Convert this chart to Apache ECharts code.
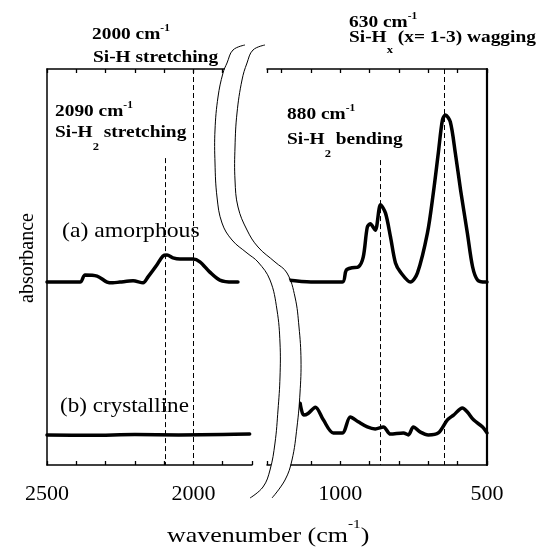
<!DOCTYPE html>
<html>
<head>
<meta charset="utf-8">
<script src="https://cdn.jsdelivr.net/npm/echarts@6/dist/echarts.min.js"></script>
<style>
  html, body { margin: 0; padding: 0; background: #fff; }
  .layer { position: absolute; left: 0; top: 0; width: 539px; height: 549px; }
  #log { position: absolute; left: 2px; top: 2px; font: 9px monospace; color: #c00; white-space: pre-wrap; z-index: 10; }
</style>
</head>
<body>
<div id="axes" class="layer"></div>
<div id="plot" class="layer"></div>
<div id="log"></div>
<script>
window.onerror = (m) => { document.getElementById('log').textContent += 'ERR ' + m + '\n'; };

// ---- data (wavenumber in cm-1, absorbance in arbitrary units 0..100) ----
const leftAmorphousWn  = [2500, 2387, 2370, 2329, 2295, 2275, 2251, 2206, 2172, 2155, 2125, 2104, 2090, 2070, 2046, 2002, 1978, 1944, 1910, 1865, 1848];
const leftAmorphousAbs = [46.2, 46.2, 48.0, 47.7, 46.2, 46.0, 46.2, 46.5, 46.0, 47.5, 50.5, 52.8, 53.0, 52.3, 52.0, 52.0, 51.3, 48.7, 46.7, 46.2, 46.2];

const leftCrystWn  = [2500, 2350, 2200, 2050, 1900, 1808];
const leftCrystAbs = [7.6, 7.5, 7.7, 7.6, 7.7, 7.8];

const rightAmorphousWn  = [1181, 1100, 993, 980, 960, 939, 922, 908, 898, 881, 863, 846, 829, 812, 795, 761, 737, 703, 683, 666, 652, 642, 625, 608, 590, 567, 549, 532, 505, 500];
const rightAmorphousAbs = [46.7, 46.2, 46.2, 49.2, 49.8, 50.0, 52.5, 60.1, 60.9, 59.3, 65.7, 63.6, 57.6, 51.0, 48.7, 46.2, 48.5, 58.6, 68.7, 78.8, 87.1, 88.4, 86.6, 78.8, 69.4, 58.6, 50.0, 46.7, 46.2, 46.2];

const rightCrystWn  = [1137, 1125, 1110, 1085, 1058, 1024, 993, 966, 939, 908, 881, 853, 829, 785, 768, 751, 727, 700, 666, 635, 614, 584, 567, 546, 515, 500];
const rightCrystAbs = [15.6, 12.6, 13.0, 14.6, 11.4, 8.1, 8.1, 12.1, 10.9, 9.6, 9.1, 9.6, 7.8, 8.1, 7.6, 9.6, 8.3, 7.6, 8.1, 11.4, 12.6, 14.4, 13.4, 11.4, 9.6, 8.1];

// dashed reference lines: [wavenumber, top of line]
const leftRefLines  = [[2095, 77.5], [2000, 100]];
const rightRefLines = [[865, 77], [645, 100]];

const leftLabels  = [2500, 2000];
const rightLabels = [1000, 500];

// axis break curves (pixel outline of the "((" marks)
const breakCurve1 = [[245,45],[233,50],[227,63],[223,73],[218,97],[215,130],[215,163],[217,197],[222,223],[232,240],[247,253],[258,262],[270,280],[277,310],[280,343],[280,377],[278,410],[275,443],[270,470],[263,487],[250,498]];
const breakCurve2 = [[265,45],[253,50],[247,63],[242,80],[237,113],[235,147],[235,180],[238,207],[247,230],[258,247],[275,262],[287,273],[295,297],[299,327],[301,360],[300,393],[297,427],[292,460],[285,480],[272,498]];

const FONT = '"Liberation Serif", "Times New Roman", serif';
const zip = (a, b) => a.map((v, i) => [v, b[i]]);

const measureCtx = document.createElement('canvas').getContext('2d');
function textWidth(str, size, bold) {
  measureCtx.font = (bold ? 'bold ' : '') + size + 'px ' + FONT;
  return measureCtx.measureText(str).width;
}

// lay out a line of text pieces (main text, super/subscripts) left to right
function textRun(x, base, parts, sx) {
  const els = [];
  let cx = x;
  parts.forEach(p => {
    const cy = p.cy !== undefined ? base + p.cy : base - 0.32 * p.size;
    els.push({
      type: 'text', x: cx, y: cy, scaleX: sx, z: 100,
      style: {
        text: p.t, fontSize: p.size, fontFamily: FONT, fontWeight: p.bold ? 'bold' : 'normal',
        fill: '#000', align: 'left', verticalAlign: 'middle'
      }
    });
    cx += textWidth(p.t, p.size, p.bold) * sx;
  });
  return els;
}

const B = 17, SUP = { size: 10, bold: true, cy: -12 }, SUB = { size: 11, bold: true, cy: 9 };
const annotations = [
  [92, 40,  [{ t: '2000 cm', size: B, bold: true }, { t: '-1', ...SUP }]],
  [93, 63,  [{ t: 'Si-H stretching', size: B, bold: true }]],
  [55, 117, [{ t: '2090 cm', size: B, bold: true }, { t: '-1', ...SUP }]],
  [55, 138, [{ t: 'Si-H', size: B, bold: true }, { t: '2', ...SUB }, { t: ' stretching', size: B, bold: true }]],
  [349, 28, [{ t: '630 cm', size: B, bold: true }, { t: '-1', ...SUP }]],
  [349, 43, [{ t: 'Si-H', size: B, bold: true }, { t: 'x', ...SUB, cy: 7 }, { t: ' (x= 1-3) wagging', size: B, bold: true }]],
  [287, 120, [{ t: '880 cm', size: B, bold: true }, { t: '-1', ...SUP }]],
  [287, 145, [{ t: 'Si-H', size: B, bold: true }, { t: '2', ...SUB }, { t: ' bending', size: B, bold: true }]]
];

let graphics = [];
annotations.forEach(a => { graphics = graphics.concat(textRun(a[0], a[1], a[2], 1.14)); });
graphics = graphics.concat(textRun(62, 238, [{ t: '(a) amorphous', size: 21 }], 1.13));
graphics = graphics.concat(textRun(60, 413, [{ t: '(b) crystalline', size: 21 }], 1.1));
graphics = graphics.concat(textRun(167, 543, [
  { t: 'wavenumber (cm', size: 22 }, { t: '-1', size: 13, cy: -18 }, { t: ')', size: 22 }
], 1.18));
graphics.push({
  type: 'text', x: 27, y: 258, rotation: Math.PI / 2, scaleY: 1.1, z: 100,
  style: { text: 'absorbance', fontSize: 20, fontFamily: FONT, fill: '#000', align: 'center', verticalAlign: 'middle' }
});

// white band hiding the axis lines inside the break, then the two break curves
const maskPts = breakCurve1.concat([[272, 500]], breakCurve2.slice().reverse().filter(p => p[1] > 262), [[266, 240], [266, 40]]);
graphics.push({ type: 'polygon', z: 50, shape: { points: maskPts }, style: { fill: '#fff', stroke: null } });
[breakCurve1, breakCurve2].forEach(c => graphics.push({
  type: 'polyline', z: 60, shape: { points: c, smooth: 0.4 }, style: { stroke: '#000', lineWidth: 1, fill: null }
}));

const grids = [
  { left: 47, top: 69, width: 205, height: 396, show: false },
  { left: 267, top: 69, width: 220, height: 396, show: false }
];

function xAx(grid, pos, min, max, labels, visible) {
  return {
    type: 'value', gridIndex: grid, position: pos, min, max, interval: 100, inverse: true, show: visible,
    axisLine: { show: true, onZero: false, lineStyle: { color: '#000', width: 1.5 } },
    axisTick: { show: true, inside: true, length: 4, lineStyle: { color: '#000', width: 1.3 } },
    axisLabel: labels ? {
      show: true, margin: 18, fontSize: 22, fontFamily: FONT, color: '#000',
      formatter: v => (labels.indexOf(v) >= 0 ? String(v) : '')
    } : { show: false },
    splitLine: { show: false }
  };
}
function xAxes(visible) {
  return [
    xAx(0, 'bottom', 1800, 2500, leftLabels, visible),
    xAx(0, 'top', 1800, 2500, null, visible),
    xAx(1, 'bottom', 500, 1250, rightLabels, visible),
    xAx(1, 'top', 500, 1250, null, visible)
  ];
}
function yAxes(visible) {
  return [
    { type: 'value', gridIndex: 0, position: 'left', min: 0, max: 100, show: visible,
      axisLine: { show: true, lineStyle: { color: '#000', width: 1.5 } },
      axisTick: { show: false }, axisLabel: { show: false }, splitLine: { show: false } },
    { type: 'value', gridIndex: 1, position: 'right', min: 0, max: 100, show: visible,
      axisLine: { show: true, lineStyle: { color: '#000', width: 2.2 } },
      axisTick: { show: false }, axisLabel: { show: false }, splitLine: { show: false } }
  ];
}

// layer 1: the axis frame
const axesChart = echarts.init(document.getElementById('axes'));
axesChart.setOption({
  backgroundColor: '#fff',
  animation: false,
  grid: grids,
  xAxis: xAxes(true),
  yAxis: yAxes(true),
  series: [
    { type: 'line', xAxisIndex: 0, yAxisIndex: 0, data: [] },
    { type: 'line', xAxisIndex: 2, yAxisIndex: 1, data: [] }
  ]
});

function refLines(list) {
  return {
    silent: true, symbol: 'none', label: { show: false },
    lineStyle: { color: '#000', width: 1, type: [5, 3] },
    data: list.map(r => [{ coord: [r[0], r[1]] }, { coord: [r[0], 0] }])
  };
}

const lineStyle = { color: '#000', width: 3.5, join: 'round', cap: 'round' };

// layer 2: spectra, reference lines, break marks and text (same scales, axes hidden)
const plotChart = echarts.init(document.getElementById('plot'));
plotChart.setOption({
  backgroundColor: 'transparent',
  animation: false,
  grid: grids,
  xAxis: xAxes(false),
  yAxis: yAxes(false),
  series: [
    { name: 'amorphous', type: 'line', xAxisIndex: 0, yAxisIndex: 0, data: zip(leftAmorphousWn, leftAmorphousAbs),
      showSymbol: false, smooth: 0.3, lineStyle, markLine: refLines(leftRefLines) },
    { name: 'crystalline', type: 'line', xAxisIndex: 0, yAxisIndex: 0, data: zip(leftCrystWn, leftCrystAbs),
      showSymbol: false, smooth: 0.3, lineStyle },
    { name: 'amorphous', type: 'line', xAxisIndex: 2, yAxisIndex: 1, data: zip(rightAmorphousWn, rightAmorphousAbs),
      showSymbol: false, smooth: 0.3, lineStyle, markLine: refLines(rightRefLines) },
    { name: 'crystalline', type: 'line', xAxisIndex: 2, yAxisIndex: 1, data: zip(rightCrystWn, rightCrystAbs),
      showSymbol: false, smooth: 0.3, lineStyle }
  ],
  graphic: graphics
});
</script>
</body>
</html>
